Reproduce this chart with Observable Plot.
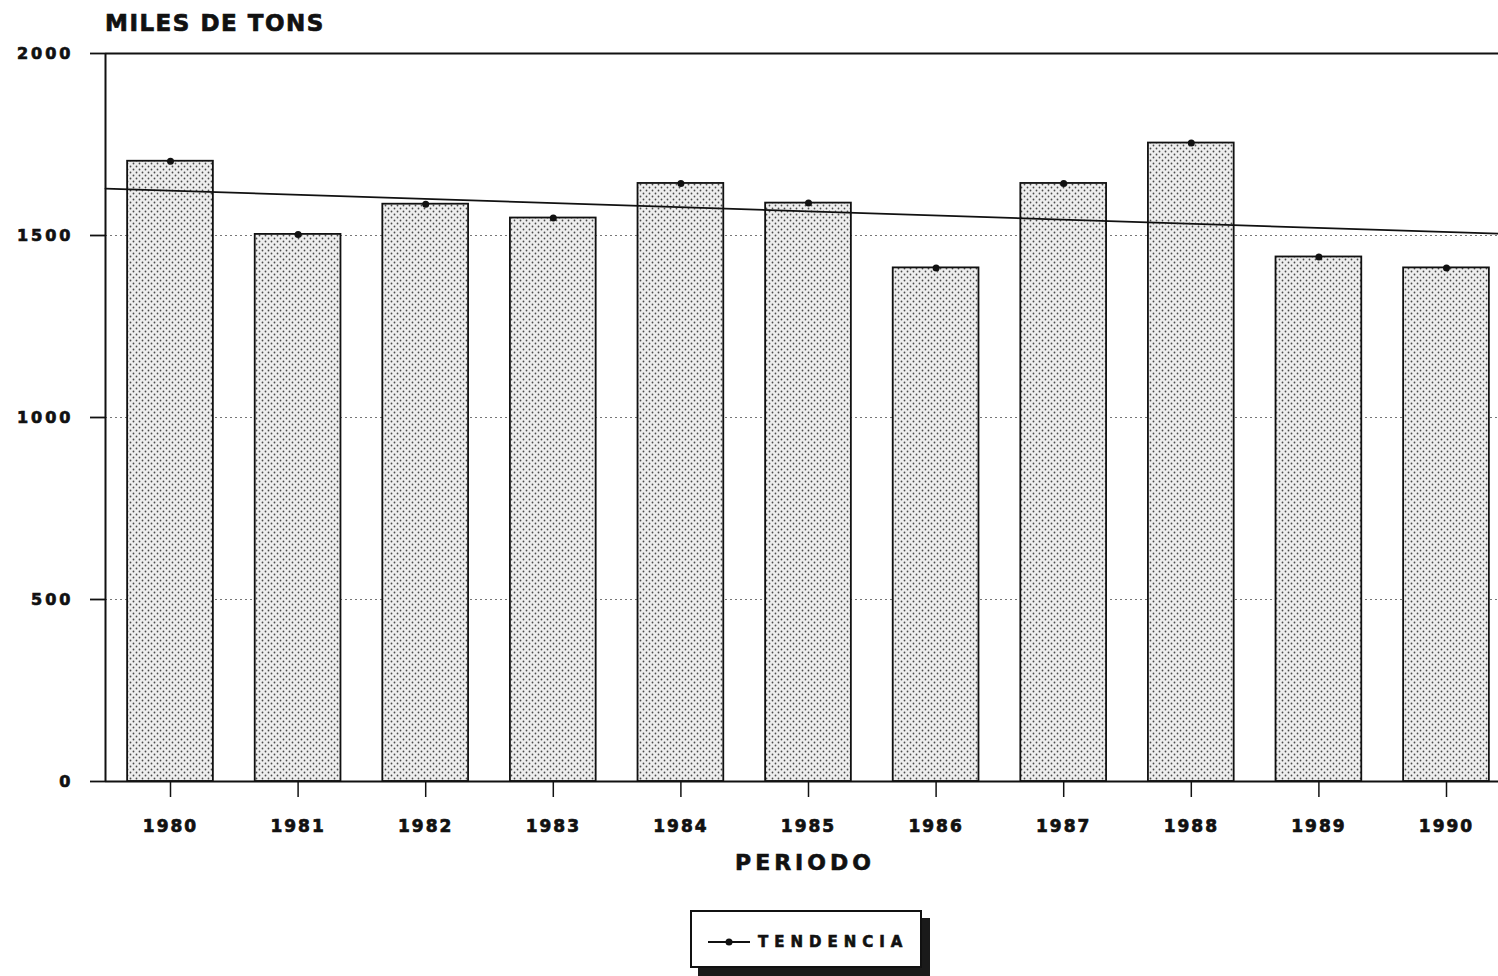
<!DOCTYPE html>
<html>
<head>
<meta charset="utf-8">
<script src="https://cdn.jsdelivr.net/npm/d3@7"></script>
<script src="https://cdn.jsdelivr.net/npm/@observablehq/plot@0.6"></script>
<style>
  html, body { margin: 0; padding: 0; background: #fff; }
  #wrap { position: relative; width: 1498px; height: 976px; overflow: hidden; font-family: "DejaVu Sans", sans-serif; font-weight: bold; color: #111; }
  #chart { position: absolute; left: 0; top: 0; }
  #chart svg text { font-family: "DejaVu Sans", sans-serif; font-weight: bold; fill: #111; stroke: #111; stroke-width: 0.7px; paint-order: stroke; }
  .ylab text { letter-spacing: 3px; font-size: 16px; }
  .xlab text { letter-spacing: 2px; font-size: 17px; }
  #title { position: absolute; left: 105px; top: 12px; font-size: 23px; letter-spacing: 1.5px; line-height: 1; white-space: nowrap; -webkit-text-stroke: 0.7px #111; }
  #xtitle { position: absolute; left: 0; width: 1610px; top: 852px; text-align: center; font-size: 22px; letter-spacing: 4px; line-height: 1; -webkit-text-stroke: 0.6px #111; }
  #legend { position: absolute; left: 690px; top: 910px; width: 228px; height: 54px; border: 2px solid #111; background: #fff; box-shadow: 8px 8px 0 #1a1a1a; box-sizing: content-box; }
  #legend svg { position: absolute; left: 16px; top: 25px; }
  #legend span { position: absolute; left: 66px; top: 23px; font-size: 15px; letter-spacing: 6px; line-height: 1; white-space: nowrap; -webkit-text-stroke: 0.6px #111; }
</style>
</head>
<body>
<div id="wrap">
  <div id="chart"></div>
  <div id="title">MILES DE TONS</div>
  <div id="xtitle">PERIODO</div>
  <div id="legend">
    <svg width="44" height="10"><line x1="0" y1="5" x2="42" y2="5" stroke="#111" stroke-width="2"/><circle cx="21" cy="5" r="3.5" fill="#111"/></svg>
    <span>TENDENCIA</span>
  </div>
</div>
<script>
// ---- data ----
const years = [1980, 1981, 1982, 1983, 1984, 1985, 1986, 1987, 1988, 1989, 1990];
const produccion = [1704, 1503, 1586, 1548, 1643, 1589, 1411, 1643, 1754, 1441, 1411];
const yTicks = [0, 500, 1000, 1500, 2000];
const gridValues = [500, 1000, 1500];
// trend line, read at the left and right edges of the plot
const xDomain = [1979.4906, 1990.4075];
const trendYears = [xDomain[0], xDomain[1]];
const trendValues = [1629, 1505];

const bars = years.map((y, i) => ({year: y, value: produccion[i]}));
const trend = trendYears.map((y, i) => ({year: y, value: trendValues[i]}));
const halfWidth = 0.336;

const plot = Plot.plot({
  width: 1498,
  height: 976,
  marginLeft: 105,
  marginRight: 0,
  marginTop: 53,
  marginBottom: 195,
  x: {type: "linear", domain: xDomain},
  y: {domain: [0, 2000]},
  marks: [
    Plot.gridY(gridValues, {stroke: "#777", strokeOpacity: 1, strokeDasharray: "2,3", strokeWidth: 1}),
    Plot.rect(bars, {
      x1: d => d.year - halfWidth,
      x2: d => d.year + halfWidth,
      y1: 0,
      y2: "value",
      fill: "url(#stipple)",
      stroke: "#111",
      strokeWidth: 1.8
    }),
    Plot.line(trend, {x: "year", y: "value", stroke: "#111", strokeWidth: 1.8}),
    Plot.dot(bars, {x: "year", y: "value", r: 3.5, fill: "#111"}),
    Plot.ruleY([0, 2000], {stroke: "#111", strokeWidth: 1.8}),
    Plot.ruleX([xDomain[0]], {y1: 0, y2: 2000, stroke: "#111", strokeWidth: 2}),
    Plot.axisY(yTicks, {
      tickSize: 15, tickPadding: 17, tickFormat: d => String(d),
      stroke: "#111", strokeWidth: 1.8, label: null, className: "ylab"
    }),
    Plot.axisX(years, {
      tickSize: 16, tickPadding: 22, tickFormat: d => String(d),
      stroke: "#111", strokeWidth: 1.5, label: null, className: "xlab"
    })
  ]
});

// stipple pattern for the bars
const ns = "http://www.w3.org/2000/svg";
const defs = document.createElementNS(ns, "defs");
defs.innerHTML = `
  <pattern id="stipple" width="6" height="6" patternUnits="userSpaceOnUse">
    <rect width="6" height="6" fill="#eeeeee"/>
    <circle cx="1.5" cy="1.5" r="0.9" fill="#4a4a4a"/>
    <circle cx="4.5" cy="4.5" r="0.9" fill="#4a4a4a"/>
  </pattern>`;
plot.insertBefore(defs, plot.firstChild);
document.getElementById("chart").appendChild(plot);
</script>
</body>
</html>
